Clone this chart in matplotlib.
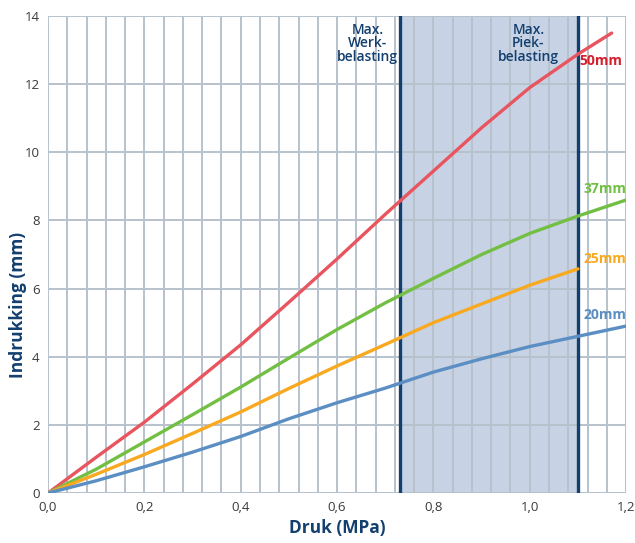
import numpy as np
import matplotlib
matplotlib.use('Agg')
import matplotlib.pyplot as plt

plt.rcParams['font.family'] = ['Open Sans', 'DejaVu Sans']

# data
x_50 = [0.0, 0.1, 0.2, 0.3, 0.4, 0.5, 0.6, 0.7, 0.8, 0.9, 1.0, 1.1, 1.17]
y_50 = [0.0, 1.05, 2.08, 3.2, 4.35, 5.6, 6.87, 8.18, 9.45, 10.72, 11.9, 12.88, 13.5]

x_37 = [0.0, 0.1, 0.2, 0.3, 0.4, 0.5, 0.6, 0.7, 0.8, 0.9, 1.0, 1.1, 1.2]
y_37 = [0.0, 0.7, 1.5, 2.3, 3.11, 3.96, 4.8, 5.58, 6.3, 7.0, 7.62, 8.13, 8.6]

x_25 = [0.0, 0.1, 0.2, 0.3, 0.4, 0.5, 0.6, 0.7, 0.8, 0.9, 1.0, 1.1]
y_25 = [0.0, 0.55, 1.13, 1.75, 2.38, 3.07, 3.73, 4.36, 5.0, 5.55, 6.1, 6.58]

x_20 = [0.0, 0.1, 0.2, 0.3, 0.4, 0.5, 0.6, 0.7, 0.8, 0.9, 1.0, 1.1, 1.2]
y_20 = [0.0, 0.36, 0.77, 1.2, 1.66, 2.18, 2.65, 3.08, 3.55, 3.94, 4.3, 4.6, 4.9]

werk = 0.73
piek = 1.1

fig = plt.figure(figsize=(6.35, 5.43), dpi=100)
ax = fig.add_axes([0.0756, 0.092, 0.9104, 0.8785])

navy = '#123f6e'
gridc = '#b7c2cc'

# gearceerd gebied tussen werk- en piekbelasting
ax.axvspan(werk, piek, color='#c7d3e5', zorder=0)

# raster
for xv in np.arange(0, 1.2001, 0.04):
    ax.axvline(xv, color=gridc, lw=1.4, zorder=1)
for yv in np.arange(0, 14.01, 2):
    ax.axhline(yv, color=gridc, lw=1.4, zorder=1)

ax.axvline(werk, color=navy, lw=2.4, zorder=3)
ax.axvline(piek, color=navy, lw=2.4, zorder=3)

# curves
ax.plot(x_50, y_50, color='#e8555f', lw=2.4, zorder=4, solid_capstyle='round', solid_joinstyle='round')
ax.plot(x_37, y_37, color='#72bf44', lw=2.4, zorder=4, solid_capstyle='round', solid_joinstyle='round')
ax.plot(x_25, y_25, color='#f8a91f', lw=2.4, zorder=4, solid_capstyle='round', solid_joinstyle='round')
ax.plot(x_20, y_20, color='#5b8ec2', lw=2.4, zorder=4, solid_capstyle='round', solid_joinstyle='round')

# labels bij de curves
ax.text(1.103, 12.55, '50mm', color='#d5202e', fontsize=10, fontweight='bold', zorder=5)
ax.text(1.112, 8.8, '37mm', color='#72bf44', fontsize=10, fontweight='bold', zorder=5)
ax.text(1.112, 6.75, '25mm', color='#f8a91f', fontsize=10, fontweight='bold', zorder=5)
ax.text(1.112, 5.1, '20mm', color='#5b8ec2', fontsize=10, fontweight='bold', zorder=5)

ax.text(0.664, 13.8, 'Max.\nWerk-\nbelasting', color=navy, fontsize=10, ha='center', va='top',
        linespacing=0.95, fontweight='semibold', zorder=5)
ax.text(0.997, 13.8, 'Max.\nPiek-\nbelasting', color=navy, fontsize=10, ha='center', va='top',
        linespacing=0.95, fontweight='semibold', zorder=5)

ax.set_xlim(0, 1.2)
ax.set_ylim(0, 14)
ax.set_xticks([0, 0.2, 0.4, 0.6, 0.8, 1.0, 1.2])
ax.set_xticklabels(['0,0', '0,2', '0,4', '0,6', '0,8', '1,0', '1,2'])
ax.set_yticks(np.arange(0, 15, 2))
ax.tick_params(length=0, labelsize=9.5, labelcolor='#3a3a3a', pad=6)

for s in ax.spines.values():
    s.set_visible(False)

ax.set_xlabel('Druk (MPa)', color=navy, fontsize=12.5, fontweight='bold', labelpad=3)
ax.set_ylabel('Indrukking (mm)', color=navy, fontsize=12.5, fontweight='bold', va='center')
ax.yaxis.set_label_coords(-0.052, 0.394)

fig.savefig('out.png', dpi=100)
